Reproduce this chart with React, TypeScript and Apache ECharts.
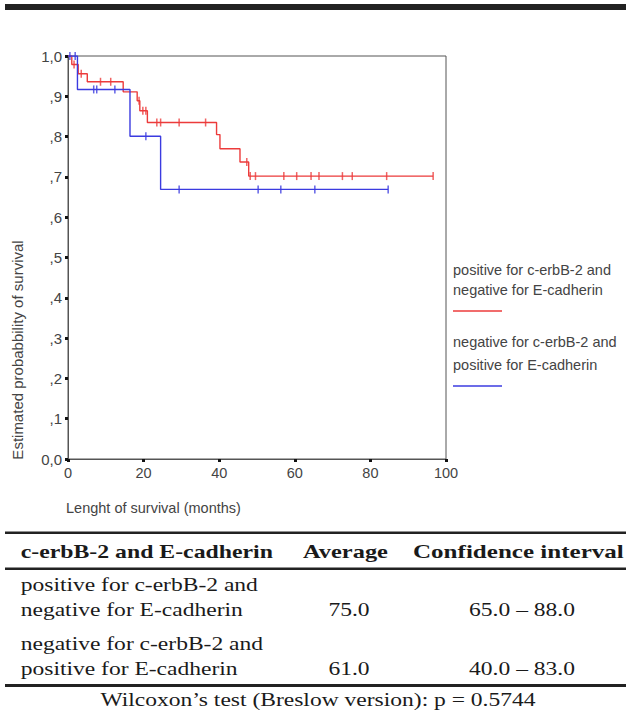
import React, { useEffect, useRef } from 'react';
import * as echarts from 'echarts';

// ---- chart data ----
const xTicks = [0, 20, 40, 60, 80, 100];
const yTickLabels = ['0,0', ',1', ',2', ',3', ',4', ',5', ',6', ',7', ',8', ',9', '1,0'];

// Kaplan-Meier steps: event times (months) and survival after each event
const redTimes = [0, 1.0, 2.7, 5.1, 14.6, 18.3, 19.0, 21.0, 39.3, 40.2, 45.5, 47.8, 96.6];
const redSurv = [1, 0.979, 0.956, 0.936, 0.911, 0.889, 0.864, 0.835, 0.805, 0.77, 0.737, 0.702, 0.702];
const redCensor = [1.6, 3.5, 8.6, 11.3, 18.8, 19.8, 20.6, 23.5, 24.5, 29.4, 36.4, 47.3, 48.2, 49.6, 57.1, 60.5, 64.3, 66.4, 72.6, 75.2, 84.3, 96.6];

const blueTimes = [0, 2.5, 16.4, 24.5, 84.7];
const blueSurv = [1, 0.917, 0.801, 0.669, 0.669];
const blueCensor = [0.5, 1.9, 6.8, 7.6, 12.4, 20.6, 29.4, 50.3, 56.3, 65.3, 84.7];

const legendLines = [
  ['positive for c-erbB-2 and', 'negative for E-cadherin'],
  ['negative for c-erbB-2 and', 'positive for E-cadherin'],
];
const xTitle = 'Lenght of survival (months)';
const yTitle = 'Estimated probabbility of survival';

// ---- table data ----
const tableHeader = ['c-erbB-2 and E-cadherin', 'Average', 'Confidence interval'];
const groupLines = [
  ['positive for c-erbB-2 and', 'negative for E-cadherin'],
  ['negative for c-erbB-2 and', 'positive for E-cadherin'],
];
const averages = ['75.0', '61.0'];
const ciLow = ['65.0', '40.0'];
const ciHigh = ['88.0', '83.0'];
const footer = 'Wilcoxon\u2019s test (Breslow version): p = 0.5744';

const RED = '#ec3b3b';
const BLUE = '#3b3be0';

function survAt(times: number[], surv: number[], t: number) {
  let v = surv[0];
  for (let i = 0; i < times.length; i++) if (times[i] <= t) v = surv[i];
  return v;
}

function measure(text: string, font: string) {
  const c = document.createElement('canvas');
  const ctx = c.getContext('2d')!;
  ctx.font = font;
  return ctx.measureText(text).width;
}

export default function App() {
  const ref = useRef<HTMLDivElement>(null);
  useEffect(() => {
    if (!ref.current) return;
    const chart = echarts.init(ref.current, null, { renderer: 'svg' });
    const serif = '"Liberation Serif", "Times New Roman", serif';
    const sans = '"Liberation Sans", Arial, sans-serif';
    const regFont = `18.5px ${serif}`;
    const boldFont = `bold 18.5px ${serif}`;
    const sReg = 237.3 / measure(groupLines[0][0], regFont);
    const sBold = 252.3 / measure(tableHeader[0], boldFont);
    const ink = '#1a1a1a';

    const txt = (text: string, x: number, y: number, bold: boolean, align: string = 'left', scale?: number) => ({
      type: 'text',
      x,
      y,
      scaleX: scale ?? (bold ? sBold : sReg),
      style: {
        text,
        fontFamily: serif,
        fontSize: 18.5,
        fontWeight: bold ? 'bold' : 'normal',
        fill: ink,
        align,
        verticalAlign: 'middle',
      },
    });
    const hline = (y: number, h: number) => ({
      type: 'rect',
      shape: { x: 5, y, width: 621, height: h },
      style: { fill: '#222' },
    });

    const graphics: any[] = [
      { type: 'rect', shape: { x: 5, y: 4, width: 621, height: 6 }, style: { fill: '#222' } },
      {
        type: 'text', x: 17, y: 350, rotation: Math.PI / 2,
        style: { text: yTitle, fontFamily: sans, fontSize: 15, fill: '#444', align: 'center', verticalAlign: 'middle' },
      },
      {
        type: 'text', x: 66, y: 508,
        style: { text: xTitle, fontFamily: sans, fontSize: 14.5, fill: '#444', align: 'left', verticalAlign: 'middle' },
      },
    ];
    // legend
    const legY = [[270, 290, 311], [342, 365, 386]];
    const legCol = [RED, BLUE];
    legendLines.forEach((lines, i) => {
      lines.forEach((l, j) => {
        graphics.push({
          type: 'text', x: 453, y: legY[i][j],
          style: { text: l, fontFamily: sans, fontSize: 14.5, fill: '#444', align: 'left', verticalAlign: 'middle' },
        });
      });
      graphics.push({
        type: 'line', shape: { x1: 453, y1: legY[i][2], x2: 502, y2: legY[i][2] },
        style: { stroke: legCol[i], lineWidth: 1.4 },
      });
    });
    // table
    graphics.push(hline(531.5, 2.6));
    graphics.push(txt(tableHeader[0], 20.7, 551.7, true));
    graphics.push(txt(tableHeader[1], 303, 551.7, true, 'left', 85 / measure(tableHeader[1], boldFont)));
    graphics.push(txt(tableHeader[2], 413, 551.7, true, 'left', 211 / measure(tableHeader[2], boldFont)));
    graphics.push(hline(567.5, 2.6));
    const rowY = [[585, 610], [644, 669]];
    groupLines.forEach((lines, i) => {
      graphics.push(txt(lines[0], 20.7, rowY[i][0], false));
      graphics.push(txt(lines[1], 20.7, rowY[i][1], false));
      graphics.push(txt(averages[i], 349, rowY[i][1], false, 'center'));
      graphics.push(txt(`${ciLow[i]} \u2013 ${ciHigh[i]}`, 522, rowY[i][1], false, 'center'));
    });
    graphics.push(hline(684, 3));
    graphics.push(txt(footer, 318, 700, false, 'center'));

    const censorData = (c: number[], t: number[], s: number[]) => c.map((x) => [x, survAt(t, s, x)]);

    chart.setOption({
      animation: false,
      backgroundColor: '#ffffff',
      grid: { left: 68, top: 56, right: 180, bottom: 254, show: true, borderColor: '#555', borderWidth: 1, backgroundColor: '#fff' },
      xAxis: {
        type: 'value', min: 0, max: 100, interval: 20,
        axisLine: { show: true, onZero: false, lineStyle: { color: '#555', width: 1 } },
        axisTick: { show: true, length: 3, lineStyle: { color: '#111', width: 3 } },
        axisLabel: { color: '#444', fontSize: 14.5, fontFamily: sans, margin: 6, formatter: (v: number) => (xTicks.includes(v) ? String(v) : '') },
        splitLine: { show: false },
      },
      yAxis: {
        type: 'value', min: 0, max: 1, interval: 0.1,
        axisLine: { show: true, lineStyle: { color: '#555', width: 1 } },
        axisTick: { show: true, length: 3, lineStyle: { color: '#111', width: 3 } },
        axisLabel: { color: '#444', fontSize: 15, fontFamily: sans, margin: 6, formatter: (v: number) => yTickLabels[Math.round(v * 10)] },
        splitLine: { show: false },
      },
      series: [
        {
          type: 'line', step: 'end', symbol: 'none',
          data: redTimes.map((t, i) => [t, redSurv[i]]),
          lineStyle: { color: RED, width: 1.4 }, z: 3,
        },
        {
          type: 'line', step: 'end', symbol: 'none',
          data: blueTimes.map((t, i) => [t, blueSurv[i]]),
          lineStyle: { color: BLUE, width: 1.4 }, z: 4,
        },
        {
          type: 'scatter', symbol: 'rect', symbolSize: [1.5, 8],
          data: censorData(redCensor, redTimes, redSurv),
          itemStyle: { color: RED }, z: 3,
        },
        {
          type: 'scatter', symbol: 'rect', symbolSize: [1.5, 8],
          data: censorData(blueCensor, blueTimes, blueSurv),
          itemStyle: { color: BLUE }, z: 4,
        },
      ],
      graphic: graphics,
    });
    return () => chart.dispose();
  }, []);
  return <div ref={ref} style={{ position: 'fixed', left: 0, top: 0, width: 626, height: 713, background: '#fff' }} />;
}
